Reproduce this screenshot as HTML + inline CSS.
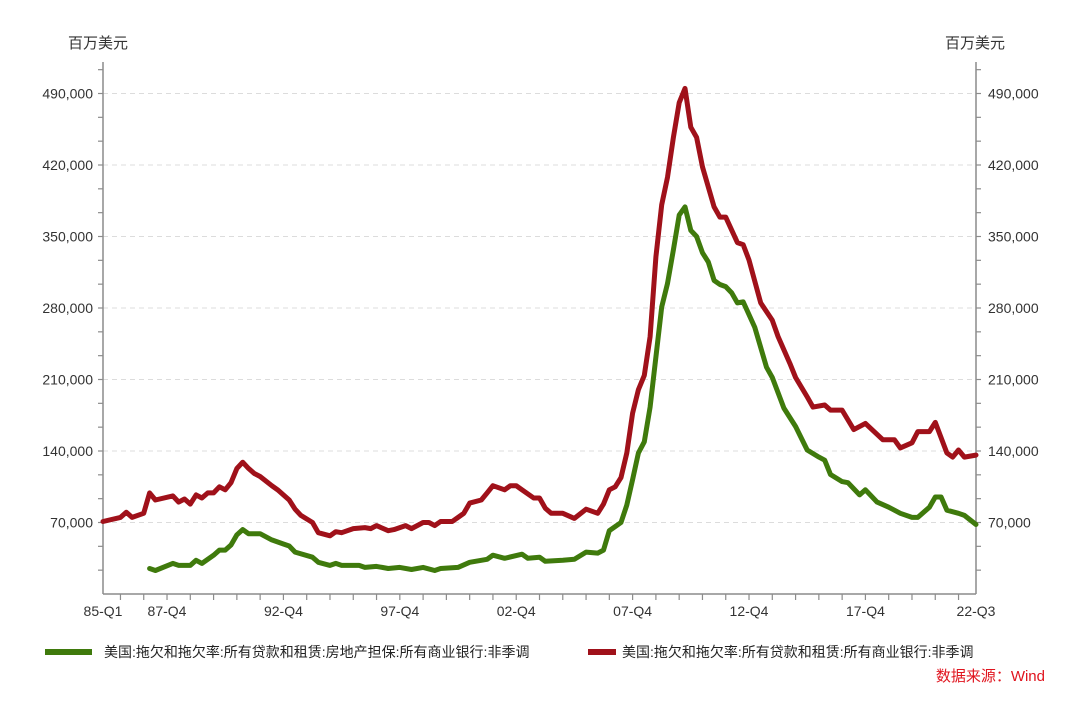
<!DOCTYPE html>
<html><head><meta charset="utf-8"><style>
body{margin:0;background:#fff;}
svg text{font-family:"Liberation Sans","Noto Sans CJK SC",sans-serif;}
</style></head><body>
<svg id="chart" width="1080" height="697" viewBox="0 0 1080 697" xmlns="http://www.w3.org/2000/svg">
<g id="grid"></g>
<g id="axes"></g>
<g id="series"></g>
<text x="68" y="48" font-size="15" fill="#333">百万美元</text>
<text x="945" y="48" font-size="15" fill="#333">百万美元</text>
<g>
<rect x="45" y="649" width="47" height="6" fill="#3f7a0c"/>
<text x="104" y="657" font-size="14" fill="#222">美国:拖欠和拖欠率:所有贷款和租赁:房地产担保:所有商业银行:非季调</text>
<rect x="588" y="649" width="28" height="6" fill="#a0111a"/>
<text x="622" y="657" font-size="14" fill="#222">美国:拖欠和拖欠率:所有贷款和租赁:所有商业银行:非季调</text>
</g>
<text x="1045" y="681" font-size="15" fill="#e0141e" text-anchor="end">数据来源：Wind</text>
</svg>
<script>
const yTicks=[70000,140000,210000,280000,350000,420000,490000];
const xLabels=["85-Q1","87-Q4","92-Q4","97-Q4","02-Q4","07-Q4","12-Q4","17-Q4","22-Q3"];
const xLabelQ=[0,11,31,51,71,91,111,131,150];
const redQ=[0,3,4,5,7,8,9,12,13,14,15,16,17,18,19,20,21,22,23,24,25,26,27,29,30,31,32,33,34,36,37,39,40,41,43,45,46,47,49,50,52,53,55,56,57,58,60,61,62,63,65,66,67,69,70,71,72,74,75,76,77,79,81,83,85,86,87,88,89,90,91,92,93,94,95,96,97,98,99,100,101,102,103,105,106,107,109,110,111,113,115,116,118,119,121,122,124,125,127,129,131,134,136,137,139,140,142,143,145,146,147,148,150];
const redV=[71,75,80,75,79,99,92,96,90,93,88,97,94,99,99,105,102,109,123,129,123,118,115,106,102,97,92,83,77,70,60,57,61,60,64,65,64,67,62,63,67,64,70,70,67,71,71,75,79,89,92,99,106,102,106,106,102,94,94,84,79,79,74,83,79,88,102,105,114,138,177,200,214,252,330,381,408,447,481,495,457,447,418,379,369,369,344,342,327,285,268,252,226,212,193,183,185,180,180,161,167,151,151,143,148,159,159,168,138,134,141,134,136];
const greenQ=[8,9,12,13,15,16,17,19,20,21,22,23,24,25,27,29,31,32,33,36,37,39,40,41,44,45,47,49,51,53,55,57,58,61,63,66,67,69,72,73,75,76,79,81,83,85,86,87,88,89,90,91,92,93,94,96,97,98,99,100,101,102,103,104,105,106,107,108,109,110,112,114,115,117,119,121,123,124,125,127,128,130,131,133,135,137,139,140,142,143,144,145,147,148,150];
const greenV=[25,23,30,28,28,33,30,38,43,43,48,58,63,59,59,53,49,47,41,36,31,28,30,28,28,26,27,25,26,24,26,23,25,26,31,34,38,35,39,35,36,32,33,34,41,40,43,62,66,70,87,112,138,149,183,281,304,337,371,379,356,350,334,325,307,303,301,295,285,286,261,222,212,182,164,141,134,131,117,110,109,97,102,90,85,79,75,75,85,95,95,82,79,77,68];

const NS="http://www.w3.org/2000/svg";
const X0=103,X1=976,Y0=594,NQ=150,PX_PER_K=71.5/70;
const xs=q=>X0+q*(X1-X0)/NQ;
const ys=v=>Y0-v*PX_PER_K;   // v in thousands
function mk(tag,attrs,parent){const e=document.createElementNS(NS,tag);for(const k in attrs)e.setAttribute(k,attrs[k]);parent.appendChild(e);return e;}
const grid=document.getElementById('grid'),axes=document.getElementById('axes'),series=document.getElementById('series');
const axC="#8c8c8c";
// grid + labels
yTicks.forEach(t=>{
  const y=ys(t/1000);
  const g=mk('line',{x1:X0,x2:X1,y1:y,y2:y,stroke:"#dcdcdc","stroke-dasharray":"5,4","stroke-width":1},grid);
  
  
  const s=t.toLocaleString('en-US');
  const l=mk('text',{x:X0-10,y:y+5,"font-size":14,fill:"#333","text-anchor":"end"},axes);l.textContent=s;
  
  
  const r=mk('text',{x:X1+12,y:y+5,"font-size":14,fill:"#333"},axes);r.textContent=s;
  
  
});
// axis lines
let a=mk('line',{x1:X0,x2:X0,y1:62,y2:Y0,stroke:axC,"stroke-width":1.5},axes);


a=mk('line',{x1:X1,x2:X1,y1:62,y2:Y0,stroke:axC,"stroke-width":1.5},axes);


a=mk('line',{x1:X0,x2:X1,y1:Y0,y2:Y0,stroke:axC,"stroke-width":1.5},axes);


// minor y ticks every 70000/3
for(let i=1;i<=22;i++){const y=ys(i*70/3);if(y<62)break;
  const t1=mk('line',{x1:X0-5,x2:X0,y1:y,y2:y,stroke:axC,"stroke-width":1.2},axes);
  
  
  const t2=mk('line',{x1:X1,x2:X1+5,y1:y,y2:y,stroke:axC,"stroke-width":1.2},axes);
  
  }
// x ticks at each Q4
for(let q=3;q<=NQ;q+=4){const x=xs(q);
  const t=mk('line',{x1:x,x2:x,y1:Y0,y2:Y0+6,stroke:axC,"stroke-width":1.2},axes);
  
  }
xLabels.forEach((s,i)=>{
  const t=mk('text',{x:xs(xLabelQ[i]),y:Y0+22,"font-size":14,fill:"#333","text-anchor":"middle"},axes);t.textContent=s;
  
  
});
function line(Q,V,color,name){
  const d=Q.map((q,i)=>(i?'L':'M')+xs(q).toFixed(1)+','+ys(V[i]).toFixed(1)).join('');
  const p=mk('path',{d:d,fill:"none",stroke:color,"stroke-width":5,"stroke-linejoin":"round","stroke-linecap":"round"},series);
  
  
}
line(greenQ,greenV,"#3f7a0c",'mortgage-delinquency-line');
line(redQ,redV,"#a0111a",'all-loans-delinquency-line');
</script>
</body></html>
